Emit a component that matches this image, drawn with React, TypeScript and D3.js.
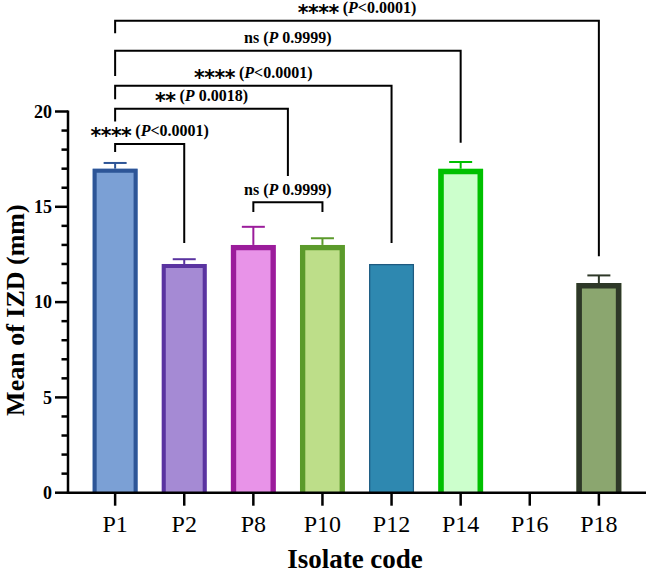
import React from "react";
import * as d3 from "d3";

// ---- data ----
const categories = ["P1", "P2", "P8", "P10", "P12", "P14", "P16", "P18"];
const means = [17, 12, 13, 13, 12, 17, 0, 11];
const errors = [0.3, 0.25, 0.95, 0.35, 0, 0.35, 0, 0.4];

// comparison brackets (category indices, levels in data units)
const bracketStars = ["****", "**", "****", "ns", "****", "ns"];
const bracketP = ["<0.0001", " 0.0018", "<0.0001", " 0.9999", "<0.0001", " 0.9999"];
const bracketFrom = [0, 0, 0, 0, 0, 2];
const bracketTo = [1, 2.5, 4, 5, 7, 3];
const bracketLevel = [18.3, 20.15, 21.35, 23.19, 24.76, 15.24];
const bracketLeftEnd = [17.87, 19.47, 20.64, 21.86, 24.1, 14.73];
const bracketRightEnd = [13.1, 16.62, 13.1, 18.36, 12.41, 14.73];

const yMajor = [0, 5, 10, 15, 20];

// ---- styles ----
const fills = ["#7BA0D5", "#A58AD4", "#E893E8", "#BDDE89", "#2E88B0", "#CCFFCC", "none", "#8BA66F"];
const strokes = ["#2D5597", "#5A33A0", "#9B1C9B", "#5B9A2B", "#1E5A80", "#00C000", "none", "#2E3828"];
const strokeW = [4, 4, 5.3, 5.3, 1.2, 5.6, 0, 5.5];

const W = 648;
const H = 573;

export default function App() {
  const x = d3
    .scaleBand<string>()
    .domain(categories)
    .range([68, 646])
    .paddingInner(0.35)
    .paddingOuter(0.357);
  const y = d3.scaleLinear().domain([0, 20]).range([492.7, 111.5]);
  const bw = x.bandwidth();
  const xc = (i: number) => (x(categories[0]) as number) + x.step() * i + bw / 2;
  const y0 = y(0);
  const minor = d3.range(0, 21, 1).filter((v) => v % 5 !== 0);

  const serif = "'Liberation Serif', 'Times New Roman', serif";

  return (
    <svg
      width={W}
      height={H}
      style={{ position: "absolute", left: 0, top: 0, background: "#fff" }}
      fontFamily={serif}
    >
      <rect x={0} y={0} width={W} height={H} fill="#fff" />
      {/* bars */}
      {categories.map((c, i) => {
        if (means[i] <= 0) return null;
        const sw = strokeW[i];
        const x0 = x(c) as number;
        const x1 = x0 + bw;
        const top = y(means[i]);
        const outline = d3.path();
        outline.moveTo(x0 + sw / 2, y0);
        outline.lineTo(x0 + sw / 2, top + sw / 2);
        outline.lineTo(x1 - sw / 2, top + sw / 2);
        outline.lineTo(x1 - sw / 2, y0);
        return (
          <g key={c}>
            <rect x={x0} y={top} width={bw} height={y0 - top} fill={fills[i]} />
            <path
              d={outline.toString()}
              fill="none"
              stroke={strokes[i]}
              strokeWidth={sw}
              strokeLinejoin="miter"
            />
            {errors[i] > 0 && (
              <g stroke={strokes[i]} strokeWidth={2}>
                <line x1={xc(i)} x2={xc(i)} y1={top} y2={y(means[i] + errors[i])} />
                <line
                  x1={xc(i) - 11.5}
                  x2={xc(i) + 11.5}
                  y1={y(means[i] + errors[i])}
                  y2={y(means[i] + errors[i])}
                />
              </g>
            )}
          </g>
        );
      })}

      {/* y axis */}
      <g stroke="#000" strokeWidth={2.5}>
        <line x1={68} x2={68} y1={y(20) - 1} y2={y0 + 1} />
        {yMajor.map((v) => (
          <line key={"M" + v} x1={55} x2={68} y1={y(v)} y2={y(v)} />
        ))}
        {minor.map((v) => (
          <line key={"m" + v} x1={61.5} x2={68} y1={y(v)} y2={y(v)} />
        ))}
      </g>
      {yMajor.map((v) => (
        <text
          key={"t" + v}
          x={52}
          y={y(v)}
          dy="0.34em"
          textAnchor="end"
          fontWeight="bold"
          fontSize={18}
        >
          {v}
        </text>
      ))}
      <text
        transform={`translate(24,${(y(0) + y(20)) / 2 + 8}) rotate(-90)`}
        textAnchor="middle"
        fontWeight="bold"
        fontSize={26}
      >
        Mean of IZD (mm)
      </text>

      {/* x axis */}
      <g stroke="#000" strokeWidth={2.5}>
        <line x1={66.8} x2={646} y1={y0} y2={y0} />
        {categories.map((c, i) => (
          <line key={"xt" + c} x1={xc(i)} x2={xc(i)} y1={y0} y2={y0 + 13} />
        ))}
      </g>
      {categories.map((c, i) => (
        <text key={"xl" + c} x={xc(i)} y={531.5} textAnchor="middle" fontSize={24}>
          {c}
        </text>
      ))}
      <text x={355} y={568} textAnchor="middle" fontWeight="bold" fontSize={27}>
        Isolate code
      </text>

      {/* brackets */}
      {bracketStars.map((s, k) => {
        const xa = xc(bracketFrom[k]);
        const xb = xc(bracketTo[k]);
        const ly = y(bracketLevel[k]);
        const path = d3.path();
        path.moveTo(xa, y(bracketLeftEnd[k]));
        path.lineTo(xa, ly);
        path.lineTo(xb, ly);
        path.lineTo(xb, y(bracketRightEnd[k]));
        return (
          <g key={"b" + k}>
            <path d={path.toString()} fill="none" stroke="#000" strokeWidth={2} />
            <text
              x={(xa + xb) / 2}
              y={ly - 7.5}
              textAnchor="middle"
              fontWeight="bold"
              fontSize={16}
            >
              {s === "ns" ? (
                <tspan>ns</tspan>
              ) : (
                <tspan
                  fontFamily="'DejaVu Sans', sans-serif"
                  fontSize={20.5}
                  dy={6.5}
                  letterSpacing={-0.5}
                >
                  {s}
                </tspan>
              )}
              <tspan dy={s === "ns" ? 0 : -6.5}> (</tspan>
              <tspan fontStyle="italic">P</tspan>
              <tspan>{bracketP[k]})</tspan>
            </text>
          </g>
        );
      })}
    </svg>
  );
}
